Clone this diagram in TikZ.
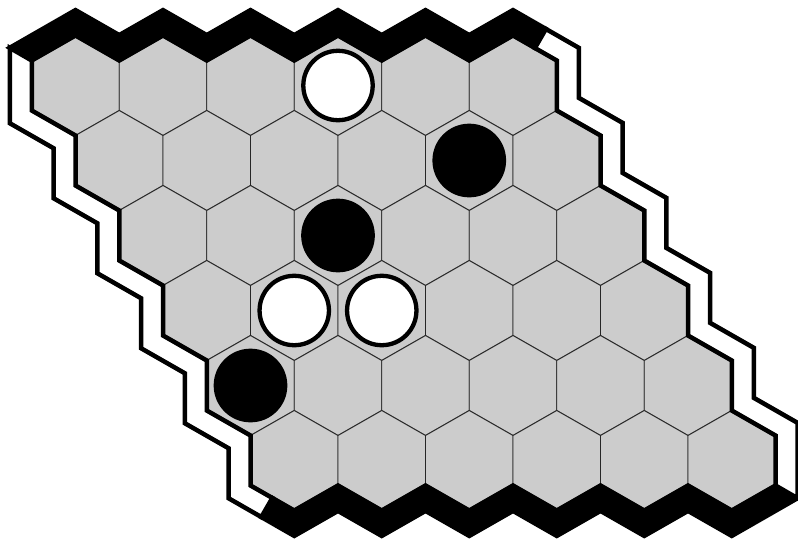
\documentclass[tikz,border=0pt]{standalone}
\usepackage{tikz}
\definecolor{feld}{HTML}{CCCCCC}
\tikzset{
  zelle/.style={fill=feld,draw=black!85,line width=0.9pt},
  rand/.style={draw=black,line width=4.5pt,line join=miter},
  schwarz/.style={rand,fill=black},
  weiss/.style={rand,fill=white},
  stein/.style={circle,minimum size=69.4pt,inner sep=0pt,line width=4.3pt,draw=black},
  wstein/.style={stein,fill=white},
  sstein/.style={stein,fill=black},
}

\begin{document}
\begin{tikzpicture}[x=1pt,y=-1pt]
  \useasboundingbox (0,0) rectangle (798,542);
  \foreach \i in {0,...,5}
    \foreach \j in {0,...,5}{
      \pgfmathsetmacro\cx{75.5+87.5*\j+43.75*\i}
      \pgfmathsetmacro\cy{85.5+75*\i}
      \draw[zelle] (\cx,\cy) +(0,-50) -- +(43.75,-25) -- +(43.75,25) -- +(0,50)
        -- +(-43.75,25) -- +(-43.75,-25) -- cycle;
    }
  % oben und unten
  \draw[schwarz] (31.75,60.5) \foreach \j in {0,...,4}{ -- ({75.5+87.5*\j},35.5) -- ({119.25+87.5*\j},60.5)}
    -- (513,35.5) -- (534.875,48) -- (545.875,28.95) -- (513,10.1)
    \foreach \j in {4,3,...,0}{ -- ({119.25+87.5*\j},35.1) -- ({75.5+87.5*\j},10.1)} -- (9.75,47.8) -- cycle;
  \draw[schwarz] (775.5,485.5) \foreach \j in {5,4,...,1}{ -- ({294.25+87.5*\j},510.5) -- ({250.5+87.5*\j},485.5)}
    -- (294.25,510.5) -- (272.375,498) -- (261.375,517.05) -- (294.25,535.9)
    \foreach \j in {1,...,5}{ -- ({250.5+87.5*\j},510.9) -- ({294.25+87.5*\j},535.9)} -- (797.5,498.2) -- cycle;
  % links und rechts
  \draw[weiss] (272.375,498) \foreach \i in {5,4,...,0}{ -- ({31.75+43.75*\i},{110.5+75*\i}) -- ({31.75+43.75*\i},{60.5+75*\i})}
    -- (9.75,47.8) \foreach \i in {0,...,5}{ -- ({9.75+43.75*\i},{73.2+75*\i}) -- ({9.75+43.75*\i},{123.2+75*\i})}
    -- (261.375,517.05) -- cycle;
  \draw[weiss] (534.875,48) \foreach \i in {0,...,5}{ -- ({556.75+43.75*\i},{60.5+75*\i}) -- ({556.75+43.75*\i},{110.5+75*\i})}
    -- (797.5,498.2) \foreach \i in {5,4,...,0}{ -- ({578.75+43.75*\i},{97.8+75*\i}) -- ({578.75+43.75*\i},{47.8+75*\i})}
    -- (545.875,28.95) -- cycle;
  % Steine
  \node[wstein] (w1) at (338,85.5) {};
  \node[sstein] (s1) at (469.25,160.5) {};
  \node[sstein] (s2) at (338,235.5) {};
  \node[wstein] (w2) at (294.25,310.5) {};
  \node[wstein] (w3) at (381.75,310.5) {};
  \node[sstein] (s3) at (250.5,385.5) {};
\end{tikzpicture}
\end{document}
